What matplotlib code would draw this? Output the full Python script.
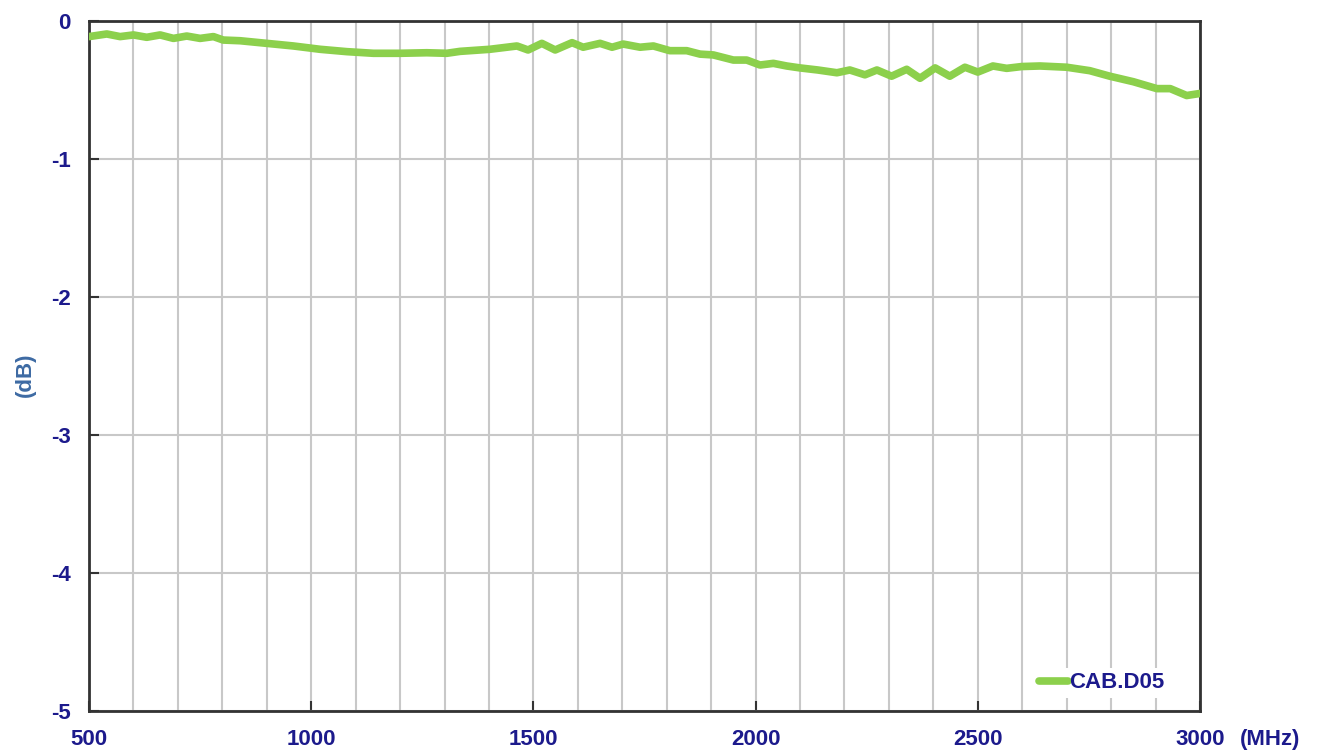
import numpy as np
import matplotlib
matplotlib.use('Agg')
import matplotlib.pyplot as plt
from matplotlib.ticker import MultipleLocator

# DATA
freq_mhz = [500, 540, 570, 600, 630, 660, 690, 720, 750, 780, 802, 840, 900, 960,
            1020, 1080, 1140, 1200, 1260, 1305, 1335, 1402, 1463, 1488, 1519, 1549,
            1587, 1612, 1650, 1677, 1702, 1740, 1770, 1807, 1845, 1875, 1905, 1950,
            1980, 2010, 2040, 2070, 2100, 2140, 2183, 2212, 2246, 2273, 2306, 2340,
            2370, 2404, 2437, 2471, 2500, 2534, 2565, 2599, 2640, 2700, 2752, 2797,
            2850, 2903, 2933, 2970, 3000]
loss_db = [-0.113, -0.094, -0.113, -0.101, -0.118, -0.101, -0.126, -0.109, -0.126,
           -0.113, -0.138, -0.143, -0.162, -0.181, -0.205, -0.222, -0.234, -0.234,
           -0.230, -0.234, -0.220, -0.205, -0.181, -0.210, -0.162, -0.210, -0.157,
           -0.190, -0.162, -0.190, -0.167, -0.190, -0.181, -0.215, -0.215, -0.240,
           -0.246, -0.283, -0.283, -0.319, -0.307, -0.326, -0.340, -0.355, -0.375,
           -0.355, -0.390, -0.355, -0.400, -0.350, -0.415, -0.340, -0.400, -0.335,
           -0.370, -0.326, -0.343, -0.330, -0.326, -0.335, -0.360, -0.400, -0.440,
           -0.490, -0.490, -0.540, -0.525]
series_name = 'CAB.D05'
x_ticks = [500, 1000, 1500, 2000, 2500, 3000]
y_ticks = [0, -1, -2, -3, -4, -5]

navy = '#1c1a8c'
fonts = ['Liberation Sans', 'DejaVu Sans']
plt.rcParams['font.family'] = fonts
plt.rcParams['font.weight'] = 'bold'
plt.rcParams['axes.unicode_minus'] = False

fig = plt.figure(figsize=(13.2, 7.53), dpi=100)
ax = fig.add_axes([89/1320, 42/753, 1111/1320, 690/753])

ax.plot(freq_mhz, loss_db, color='#8cd04c', linewidth=5.5, solid_capstyle='round',
        solid_joinstyle='round', label=series_name, zorder=3)

ax.set_xlim(500, 3000)
ax.set_ylim(-5, 0)
ax.set_xticks(x_ticks)
ax.set_yticks(y_ticks)
ax.xaxis.set_minor_locator(MultipleLocator(100))

ax.grid(True, which='both', axis='x', color='#c8c8c8', linewidth=1.5)
ax.grid(True, which='major', axis='y', color='#c8c8c8', linewidth=1.5)
ax.set_axisbelow(True)

ax.tick_params(axis='both', which='major', direction='in', length=7, width=1.5,
               color='#333333', labelcolor=navy, labelsize=16)
ax.tick_params(axis='x', which='major', pad=13)
ax.tick_params(axis='y', which='major', pad=13)
ax.tick_params(which='minor', length=0)

for s in ax.spines.values():
    s.set_color('#333333')
    s.set_linewidth(2)

fig.text(25/1320, 1 - 375/753, '(dB)', rotation=90, ha='center', va='center',
         color='#3d6aa3', fontsize=16, fontweight='bold')
ax.text(1.063, -0.042, '(MHz)', transform=ax.transAxes, ha='center', va='center',
        color=navy, fontsize=16, fontweight='bold')

leg = ax.legend(loc='lower right', bbox_to_anchor=(0.972, 0.019), frameon=True,
                facecolor='white', edgecolor='none', framealpha=1,
                handlelength=1.3, handletextpad=0.05, borderpad=0.2, borderaxespad=0,
                prop={'family': fonts, 'weight': 'bold', 'size': 16})
for t in leg.get_texts():
    t.set_color(navy)

plt.savefig('out.png', dpi=100)
